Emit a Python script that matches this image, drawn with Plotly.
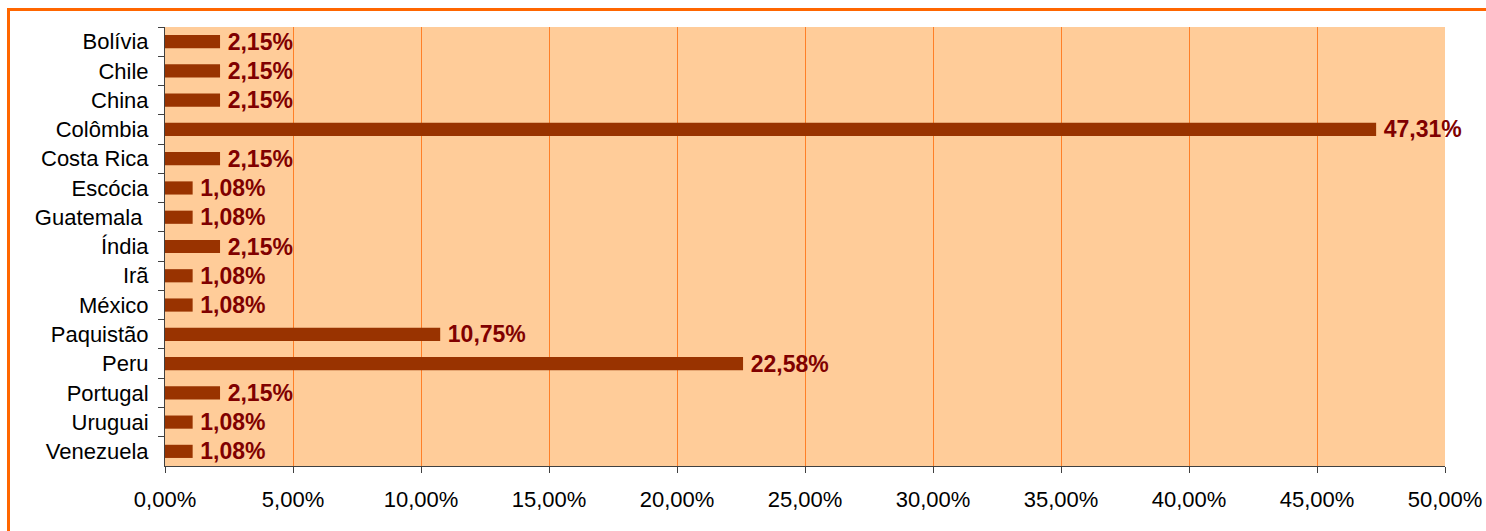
import plotly.graph_objects as go

# Data
paises = ["Bolívia", "Chile", "China", "Colômbia", "Costa Rica", "Escócia", "Guatemala ",
          "Índia", "Irã", "México", "Paquistão", "Peru", "Portugal", "Uruguai", "Venezuela"]
percentuais = [2.15, 2.15, 2.15, 47.31, 2.15, 1.08, 1.08, 2.15, 1.08, 1.08, 10.75, 22.58, 2.15, 1.08, 1.08]

# a thin space in front keeps the gap that Excel leaves after the bar
rotulos = ["\u2009" + f"{v:.2f}%".replace(".", ",") for v in percentuais]

W, H = 1486, 531
L, R, T, B = 165, 41, 27, 65
pw, ph = W - L - R, H - T - B

fig = go.Figure()
fig.add_trace(go.Bar(
    x=percentuais, y=paises, orientation="h",
    marker=dict(color="#993300", line=dict(width=0)),
    text=rotulos, textposition="outside", constraintext="none", cliponaxis=False,
    textfont=dict(family="Arial, Liberation Sans", size=23, color="#800000", weight="bold"),
    showlegend=False,
))

# orange frame around the chart (right/bottom sides run off the page)
fig.add_shape(type="rect", xref="paper", yref="paper",
              x0=(8.5 - L) / pw, x1=(1500 - L) / pw,
              y0=(H - B - 545) / ph, y1=1 + (T - 9.5) / ph,
              line=dict(color="#FF6600", width=3), fillcolor="rgba(0,0,0,0)", layer="below")

fig.update_layout(
    width=W, height=H,
    margin=dict(l=L, r=R, t=T, b=B, autoexpand=False),
    paper_bgcolor="white", plot_bgcolor="#FFCC99",
    separators=", ",
    bargap=0.55,
    font=dict(family="Arial, Liberation Sans", size=22, color="black"),
    xaxis=dict(range=[0, 50], dtick=5, tick0=0, tickformat=".2f", ticksuffix="%",
               showgrid=True, gridcolor="#FF7F27", gridwidth=1, zeroline=False,
               showline=True, linecolor="#404040", linewidth=1,
               ticks="outside", ticklen=6, tickcolor="#404040", ticklabelstandoff=8),
    yaxis=dict(autorange="reversed", showgrid=False, zeroline=False,
               showline=True, linecolor="#404040", linewidth=1,
               ticks="outside", ticklen=6, tickcolor="#404040", tickson="boundaries",
               ticklabelstandoff=11),
)

fig.write_html("out.html", config={"displayModeBar": False},
               post_script="document.body.style.margin='0px';")
